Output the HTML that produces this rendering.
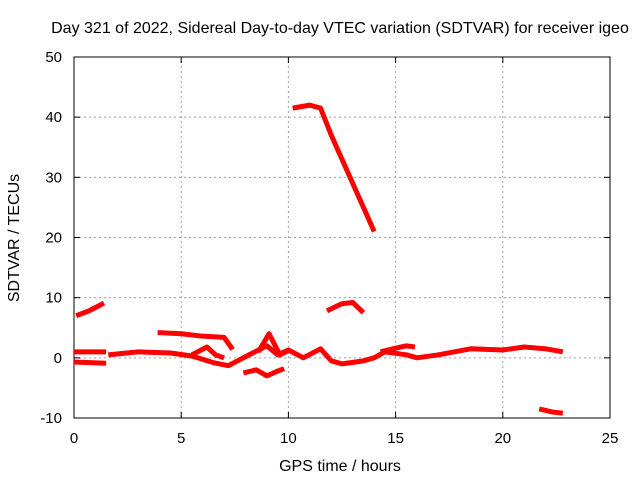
<!DOCTYPE html>
<html><head><meta charset="utf-8"><style>
body{margin:0;background:#fff;}
svg text{font-family:"Liberation Sans",sans-serif;font-size:15px;fill:#000;}
svg text.big{font-size:16px;}
</style></head><body>
<svg id="chart" width="640" height="480" xmlns="http://www.w3.org/2000/svg">
<text class="big" x="340" y="33" text-anchor="middle">Day 321 of 2022, Sidereal Day-to-day VTEC variation (SDTVAR) for receiver igeo</text>
<g id="grid"></g>
<g id="axes"></g>
<g id="series"></g>
<text class="big" x="340" y="471" text-anchor="middle">GPS time / hours</text>
<text class="big" transform="translate(19,238) rotate(-90)" text-anchor="middle">SDTVAR / TECUs</text>
</svg>
<script>
const xTicks=[0,5,10,15,20,25];
const yTicks=[-10,0,10,20,30,40,50];
const seg1=[[0.1,7.0],[0.7,7.8],[1.4,9.1]];
const seg2=[[0,1.0],[1.5,1.0]];
const seg3=[[0,-0.7],[1.5,-0.9]];
const segMain=[[1.6,0.5],[3,1.0],[4.5,0.8],[5.5,0.3],[6.5,-0.8],[7.2,-1.3],[8,0.2],[9,2],[9.5,0.5],[10,1.3],[10.7,0],[11.5,1.5],[12,-0.5],[12.5,-1],[13.5,-0.5],[14,0],[14.5,1],[15.5,0.5],[16,0],[17,0.5],[18.5,1.5],[20,1.3],[21,1.8],[22,1.5],[22.8,1]];
const segLoop=[[5.5,0.5],[6.2,1.8],[6.6,0.5],[7,0]];
const segLoop2=[[8.6,1],[9.1,4],[9.6,0.5],[10,1.2]];
const segUpper=[[3.9,4.2],[5,4.0],[6,3.6],[7,3.4],[7.4,1.4]];
const segLow=[[7.9,-2.5],[8.5,-2.0],[9,-3],[9.5,-2.2],[9.8,-1.8]];
const segHigh=[[10.2,41.5],[11,42],[11.5,41.5],[12,37],[12.5,33],[13,29],[13.5,25],[14,21]];
const segMid=[[11.8,7.8],[12.5,9],[13,9.2],[13.5,7.5]];
const segNeg=[[21.7,-8.5],[22.3,-9],[22.8,-9.2]];
const segBump=[[14.3,1],[15,1.6],[15.5,2],[15.9,1.8]];
const allSeries=[seg1,seg2,seg3,segMain,segLoop,segLoop2,segUpper,segLow,segHigh,segMid,segNeg,segBump];
const X0=74,X1=610,Y0=418,Y1=57;
const xs=v=>X0+(v-0)/25*(X1-X0);
const ys=v=>Y0-(v+10)/60*(Y0-Y1);
const NS="http://www.w3.org/2000/svg";
const grid=document.getElementById('grid'),axes=document.getElementById('axes'),ser=document.getElementById('series');
function mk(tag,attrs,parent){const e=document.createElementNS(NS,tag);for(const k in attrs)e.setAttribute(k,attrs[k]);parent.appendChild(e);return e;}
xTicks.forEach(t=>{
 const x=xs(t);
 if(t>0&&t<25){const g=mk('line',{x1:x,x2:x,y1:Y0,y2:Y1,stroke:'#a0a0a0','stroke-dasharray':'2,3'},grid);
 
 }
 const tk=mk('line',{x1:x,x2:x,y1:Y0,y2:Y0-6,stroke:'#000'},axes);
 
 
 const tk2=mk('line',{x1:x,x2:x,y1:Y1,y2:Y1+6,stroke:'#000'},axes);
 
 
 const lb=mk('text',{x:x,y:Y0+25,'text-anchor':'middle'},axes);lb.textContent=t;
 
 
});
yTicks.forEach(t=>{
 const y=ys(t);
 if(t>-10&&t<50){const g=mk('line',{x1:X0,x2:X1,y1:y,y2:y,stroke:'#a0a0a0','stroke-dasharray':'2,3'},grid);
 
 }
 const tk=mk('line',{x1:X0,x2:X0+6,y1:y,y2:y,stroke:'#000'},axes);
 
 
 const tk2=mk('line',{x1:X1,x2:X1-6,y1:y,y2:y,stroke:'#000'},axes);
 
 
 const lb=mk('text',{x:X0-12,y:y+5,'text-anchor':'end'},axes);lb.textContent=t;
 
 
});
const fr=mk('rect',{x:X0,y:Y1,width:X1-X0,height:Y0-Y1,fill:'none',stroke:'#000'},axes);


allSeries.forEach(s=>{
 const p=mk('polyline',{points:s.map(d=>xs(d[0])+','+ys(d[1])).join(' '),fill:'none',stroke:'#ff0000','stroke-width':5,'stroke-linejoin':'round','stroke-linecap':'butt'},ser);
 
 
});
</script>
</body></html>
